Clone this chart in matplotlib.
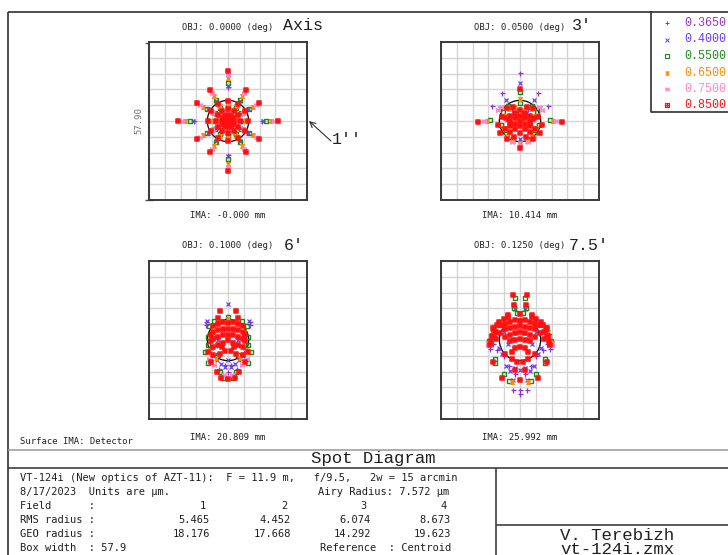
import numpy as np
import matplotlib
matplotlib.use("Agg")
import matplotlib.pyplot as plt
from matplotlib.path import Path
from matplotlib.patches import Circle

# ---------------- data ----------------
WAVES = ["0.3650", "0.4000", "0.5500", "0.6500", "0.7500", "0.8500"]
COLORS = ["#9932CC", "#6A3DFF", "#1E8A1E", "#FF8C00", "#FF88C8", "#FF1010"]
BOX_WIDTH = 57.9          # um
AIRY_RADIUS = 7.572       # um

OBJ_LABELS = ["OBJ: 0.0000 (deg)", "OBJ: 0.0500 (deg)", "OBJ: 0.1000 (deg)", "OBJ: 0.1250 (deg)"]
IMA_LABELS = ["IMA: -0.000 mm", "IMA: 10.414 mm", "IMA: 20.809 mm", "IMA: 25.992 mm"]
FIELD_NOTES = ["Axis", "3'", "6'", "7.5'"]

FIELD_NUM = ["1", "2", "3", "4"]
RMS_RADIUS = ["5.465", "4.452", "6.074", "8.673"]
GEO_RADIUS = ["18.176", "17.668", "14.292", "19.623"]

# Field 1 (on axis): spokes of the pupil pattern, radii in um per wavelength
F1_ANGLES = [0, 30, 60, 90, 120, 150, 180, 210, 240, 270, 300, 330]
F1_AXIAL_ANGLES = [0, 90, 180, 270]
F1_OUTER_AXIAL = [12.3, 12.8, 14.0, 15.6, 17.0, 18.4]
F1_OUTER_DIAG = [8.2, 8.5, 9.0, 10.5, 11.8, 13.1]
F1_INNER = [[4.8, 2.5], [5.0, 2.6], [5.6, 3.0], [6.2, 3.4, 1.2], [6.8, 3.8, 1.4], [7.4, 4.4, 2.2, 0.9, 0.0]]

# Fields 2-4: spot points (um), right half (x >= 0); spots are mirror symmetric in x
F2_X = [
    [0, 6.7, 10.1, 3.0, 0],
    [0, 5.0, 7.5, 2.2, 4.8, 0],
    [0, 10.9, 4.3, 6.4, 7.0, 5.2, 2.4, 0, 1.5, 3.5],
    [12.1, 0, 2.0, 4.0, 5.5, 6.0, 4.5, 2.5, 0, 1.0, 3.0],
    [13.2, 0, 6.8, 8.2, 3.0, 5.0],
    [15.4, 0, 0, 7.3, 8.2, 4.6, 2.4, 4.6, 0, 1.8, 3.6, 0, 1.8, 3.6, 5.2, 0, 1.8, 3.6, 5.4, 0, 1.8, 3.6, 2.2, 6.5, 0],
]
F2_Y = [
    [17.5, 10.1, 5.6, 4.5, -7.5],
    [13.8, 7.7, 4.6, 3.0, 0.5, -6.5],
    [10.5, 0.4, 5.6, 3.3, -1.5, -4.8, -6.5, 6.5, 2.5, -1.0],
    [0.1, 8.0, 5.0, 4.5, 2.0, -2.5, -5.5, -7.2, -8.0, 1.0, -1.5],
    [0.0, -8.8, 5.0, 4.0, -7.6, -6.0],
    [-0.2, 11.6, -9.8, -4.5, -1.5, 4.6, 5.2, -6.5, 4.0, 3.0, 2.0, 2.0, 1.0, 0.0, 1.0, 0.0, -1.0, -2.0, -3.0, -2.0, -3.0, -4.2, -5.8, 1.5, -4.5],
]
F3_X = [
    [7.9, 7.9, 0, 2.2, 3.3, 1.0, 4.0],
    [0, 7.6, 1.0, 2.5, 4.0, 5.5, 0, 5.5, 3.5, 2.0, 6.2],
    [0, 8.5, 7.2, 3.0, 6.8, 7.5, 7.3, 5.0, 3.5, 2.0],
    [0, 3.0, 6.0, 6.5, 4.5],
    [6.8, 5.0, 1.5],
    [2.8, 3.5, 0, 1.8, 3.6, 5.4, 0, 1.8, 3.6, 5.4, 6.4, 0, 1.8, 3.6, 5.4, 6.4, 0, 1.8, 3.6, 5.4, 7.5, 6.4, 4.1, 2.4, 0, 1.0, 3.0, 5.5, 2.2],
]
F3_Y = [
    [6.6, 5.4, -11.7, -12.5, -10.5, -9.0, -2.0],
    [13.2, 7.0, -9.8, -8.8, -7.5, -6.0, -7.5, 1.0, 0.0, 3.5, -3.0],
    [8.5, -4.4, -8.3, -11.6, 5.0, 1.0, -2.0, 6.8, -5.5, -13.8],
    [7.8, 7.0, 3.0, -3.5, -6.5],
    [-7.0, -9.0, -12.8],
    [10.6, 8.0, 6.2, 6.5, 6.0, 5.0, 4.0, 4.2, 3.8, 3.0, 2.0, 2.0, 1.8, 1.2, 0.5, -0.5, 0.0, -1.0, -2.0, -2.5, -4.5, -8.1, -11.6, -14.0, -14.2, -4.0, -5.0, -5.5, -2.5],
]
F4_X = [
    [0, 2.4, 0, 8.5, 9.8, 4.0, 2.0, 6.0, 11.0],
    [0, 1.8, 3.7, 5.0, 9.2, 10.3, 6.5, 7.8, 2.8, 1.5, 3.0, 2.0, 6.0, 4.5, 2.5, 11.2],
    [2.0, 2.2, 3.9, 11.4, 9.0, 6.0, 5.0, 1.0, 7.5, 10.8, 9.2],
    [11.6, 8.0, 4.5, 3.0, 10.2],
    [11.8, 9.5, 10.6],
    [2.6, 2.3, 0, 4.5, 11.0, 9.8, 7.6, 10.0, 6.7, 0, 0, 1.8, 3.6, 5.4, 7.2, 0, 1.8, 3.6, 5.4, 7.5, 0, 1.8, 3.6, 5.4, 0, 1.8, 3.6, 0, 1.8, 3.0, 8.8, 5.6, 3.0, 1.2,
     8.6, 9.5, 10.3, 10.8, 6.0, 4.5, 8.8, 2.0],
]
F4_Y = [
    [-18.3, -18.3, -19.8, -3.5, -1.5, -9.5, -12.5, -6.0, -3.2],
    [-11.0, -10.4, -11.5, -9.7, 1.8, 0.6, -5.0, -3.0, -7.0, 2.5, 0.5, 11.5, 3.0, -1.5, -14.5, -0.8],
    [15.3, 11.8, -15.0, -0.5, -7.0, -12.5, 6.8, 9.8, 5.5, 1.5, -8.5],
    [-1.0, 6.0, 7.5, -15.5, 3.0],
    [-2.0, 5.0, 1.0],
    [16.5, 12.8, 9.4, 9.2, -1.8, 4.3, 6.5, -7.9, -14.0, -14.6, 7.0, 7.2, 6.5, 6.0, 5.5, 5.0, 4.8, 4.5, 4.0, 2.5, 3.0, 2.5, 2.0, 1.0, 0.5, 0.0, -0.5, -2.5, -3.0, -4.5, 3.0, -5.0, -7.0, -8.0,
     5.5, 3.5, 1.5, -0.3, 7.8, 8.3, 0.5, -11.0],
]

# ---------------- markers ----------------
M, L, C = Path.MOVETO, Path.LINETO, Path.CLOSEPOLY
SQ_PLUS = Path([(-1, -1), (1, -1), (1, 1), (-1, 1), (-1, -1), (0, -1), (0, 1), (-1, 0), (1, 0)],
               [M, L, L, L, C, M, L, M, L])
SQ_DOT = Path([(-1, -1), (1, -1), (1, 1), (-1, 1), (-1, -1), (-.25, -.25), (.25, -.25), (.25, .25), (-.25, .25), (-.25, -.25)],
              [M, L, L, L, C, M, L, L, L, C])
HOURGLASS = Path([(-1, 1), (1, 1), (-1, -1), (1, -1), (-1, 1)], [M, L, L, L, C])
BOWTIE = Path([(-1, 1), (-1, -1), (1, 1), (1, -1), (-1, 1)], [M, L, L, L, C])
MARKERS = ["+", "x", SQ_DOT, HOURGLASS, BOWTIE, SQ_PLUS]
MSIZE = [3.6, 3.0, 2.8, 2.6, 2.6, 3.2]
MEW = [0.9, 0.9, 1.0, 1.0, 1.0, 1.1]

# ---------------- fonts ----------------
ZFONT = "DejaVu Sans Mono"
CFONT = "Liberation Mono"

W, H = 728, 555
fig = plt.figure(figsize=(W / 100, H / 100), dpi=100)
ov = fig.add_axes([0, 0, 1, 1])
ov.set_xlim(0, W)
ov.set_ylim(H, 0)
ov.axis("off")

def ln(x0, y0, x1, y1, c="#303030", lw=1.0):
    ov.plot([x0, x1], [y0, y1], color=c, lw=lw, solid_capstyle="butt")

# outer frame
ln(8, 12, W, 12, lw=1.2)
ln(8, 12, 8, H, lw=1.2)
# title block
ln(8, 450, W, 450, c="#a0a0a0", lw=1.2)
ln(8, 468, W, 468, c="#404040", lw=1.2)
ln(496, 468, 496, H, c="#404040", lw=1.2)
ln(496, 525, W, 525, c="#404040", lw=1.2)

BOXES = [(149, 42), (441, 42), (149, 261), (441, 261)]
BS = 158

def spot_axes(i):
    x0, y0 = BOXES[i]
    ax = fig.add_axes([x0 / W, 1 - (y0 + BS) / H, BS / W, BS / H])
    half = BOX_WIDTH / 2
    ax.set_xlim(-half, half)
    ax.set_ylim(-half, half)
    g = np.linspace(-half, half, 11)
    ax.set_xticks(g)
    ax.set_yticks(g)
    ax.tick_params(length=0, labelbottom=False, labelleft=False)
    ax.grid(True, color="#d4d4d4", lw=1.0)
    ax.set_axisbelow(True)
    for s in ax.spines.values():
        s.set_color("#3a3a3a")
        s.set_linewidth(1.4)
    ax.add_patch(Circle((0, 0), AIRY_RADIUS, fill=False, ec="black", lw=0.9, zorder=2))
    return ax

def draw_pts(ax, k, xs, ys):
    ax.plot(xs, ys, ls="none", marker=MARKERS[k], ms=MSIZE[k], mfc="none",
            mec=COLORS[k], mew=MEW[k], zorder=3 + k, clip_on=False)

# field 1
ax = spot_axes(0)
for k in range(6):
    xs, ys = [], []
    for a in F1_ANGLES:
        r_out = F1_OUTER_AXIAL[k] if a in F1_AXIAL_ANGLES else F1_OUTER_DIAG[k]
        for r in [r_out] + F1_INNER[k]:
            xs.append(r * np.cos(np.radians(a)))
            ys.append(r * np.sin(np.radians(a)))
    draw_pts(ax, k, xs, ys)

for i, (FX, FY) in enumerate([(F2_X, F2_Y), (F3_X, F3_Y), (F4_X, F4_Y)], start=1):
    ax = spot_axes(i)
    for k in range(6):
        x = np.array(FX[k], float)
        y = np.array(FY[k], float)
        xs = np.concatenate([x, -x[x > 0]])
        ys = np.concatenate([y, y[x > 0]])
        draw_pts(ax, k, xs, ys)

# labels
CX = [228, 520, 228, 520]
OBJ_Y = [27, 27, 246, 246]
IMA_Y = [216, 216, 437, 437]
NOTE_X = [283, 572, 284, 569]
for i in range(4):
    ov.text(CX[i], OBJ_Y[i], OBJ_LABELS[i], fontsize=6.4, family=ZFONT, ha="center", va="center", color="#202020")
    ov.text(CX[i], IMA_Y[i], IMA_LABELS[i], fontsize=6.4, family=ZFONT, ha="center", va="center", color="#202020")
    ov.text(NOTE_X[i], OBJ_Y[i] - 1, FIELD_NOTES[i], fontsize=12, family=CFONT, ha="left", va="center", color="#202020")

# scale bar on first box
ln(149, 42, 149, 200, c="#8a8a8a", lw=2.2)
ln(145, 42.5, 153, 42.5, c="#505050", lw=1)
ln(145, 199.5, 153, 199.5, c="#505050", lw=1)
ov.text(139, 121, "57.90", fontsize=6.4, family=ZFONT, rotation=90, ha="center", va="center", color="#707070")

# 1'' annotation
ov.annotate("", xy=(309, 121), xytext=(331, 141),
            arrowprops=dict(arrowstyle="->", color="#303030", lw=0.8, shrinkA=0, shrinkB=0))
ov.text(332, 140, "1''", fontsize=12, family=CFONT, ha="left", va="center", color="#202020")

# legend
ov.plot([651, 651, W + 2], [12, 112, 112], color="#303030", lw=1.2)
LEG_Y = [23, 39.5, 56, 72.5, 88.5, 105]
for k in range(6):
    ov.plot([667], [LEG_Y[k]], ls="none", marker=MARKERS[k], ms=MSIZE[k] * 0.9, mfc="none",
            mec=COLORS[k], mew=MEW[k] * 0.8)
    ov.text(684, LEG_Y[k], WAVES[k], fontsize=8.4, family=CFONT, ha="left", va="center", color=COLORS[k])

ov.text(20, 442, "Surface IMA: Detector", fontsize=6.4, family=ZFONT, ha="left", va="center", color="#202020")
ov.text(373, 459, "Spot Diagram", fontsize=12.5, family=CFONT, ha="center", va="center", color="#202020")

TFS = 7.45
ov.text(20, 478, "VT-124i (New optics of AZT-11):  F = 11.9 m,   f/9.5,   2w = 15 arcmin",
        fontsize=TFS, family=ZFONT, ha="left", va="center", color="#202020")
ov.text(20, 492, "8/17/2023  Units are \u00b5m.", fontsize=TFS, family=ZFONT, ha="left", va="center", color="#202020")
ov.text(449, 492, "Airy Radius: 7.572 \u00b5m", fontsize=TFS, family=ZFONT, ha="right", va="center", color="#202020")
ov.text(20, 506, "Field      :", fontsize=TFS, family=ZFONT, ha="left", va="center", color="#202020")
ov.text(20, 520, "RMS radius :", fontsize=TFS, family=ZFONT, ha="left", va="center", color="#202020")
ov.text(20, 534, "GEO radius :", fontsize=TFS, family=ZFONT, ha="left", va="center", color="#202020")
ov.text(20, 548, "Box width  : 57.9", fontsize=TFS, family=ZFONT, ha="left", va="center", color="#202020")
ov.text(451, 548, "Reference  : Centroid", fontsize=TFS, family=ZFONT, ha="right", va="center", color="#202020")
COL_X = [210, 291, 371, 451]
for j in range(4):
    ov.text(COL_X[j] - 4, 506, FIELD_NUM[j], fontsize=TFS, family=ZFONT, ha="right", va="center", color="#202020")
    ov.text(COL_X[j], 520, RMS_RADIUS[j], fontsize=TFS, family=ZFONT, ha="right", va="center", color="#202020")
    ov.text(COL_X[j], 534, GEO_RADIUS[j], fontsize=TFS, family=ZFONT, ha="right", va="center", color="#202020")

ov.text(617, 535, "V. Terebizh", fontsize=12.5, family=CFONT, ha="center", va="center", color="#202020")
ov.text(617, 549, "vt-124i.zmx", fontsize=12.5, family=CFONT, ha="center", va="center", color="#202020")

fig.savefig("out.png", dpi=100)
